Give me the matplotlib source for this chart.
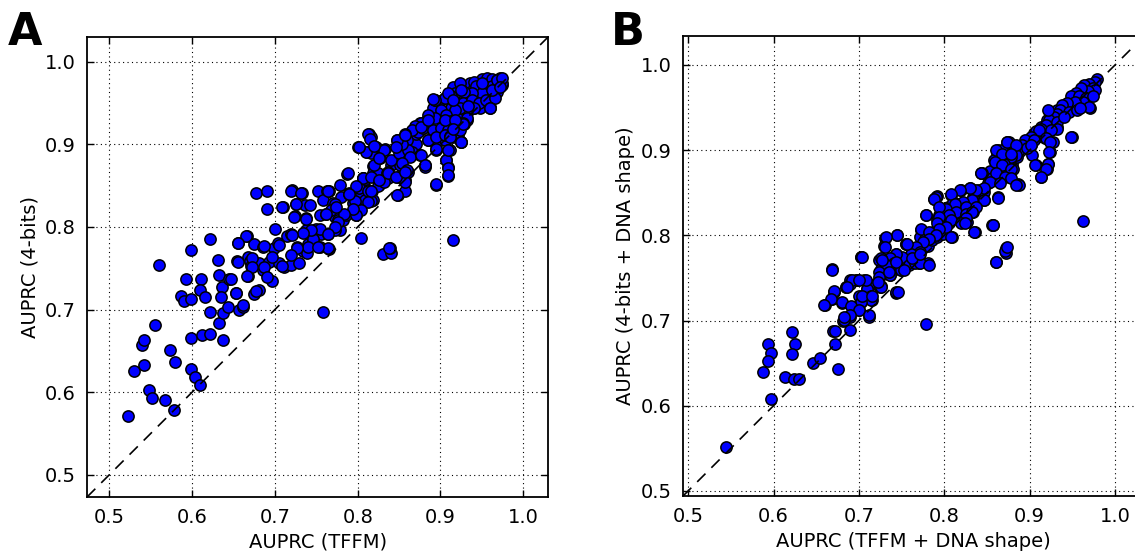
import numpy as np
import matplotlib
matplotlib.use('Agg')
from matplotlib import pyplot as plt

# panel A: AUPRC (TFFM) vs AUPRC (4-bits)
pts_a = [
    (0.523, 0.571), (0.530, 0.626), (0.542, 0.633), (0.539, 0.657), (0.542, 0.663), (0.555, 0.681),
    (0.560, 0.754), (0.548, 0.602), (0.552, 0.593), (0.567, 0.590), (0.578, 0.578), (0.573, 0.651),
    (0.579, 0.636), (0.586, 0.716), (0.590, 0.710), (0.592, 0.737), (0.598, 0.772), (0.599, 0.713),
    (0.599, 0.628), (0.604, 0.618), (0.609, 0.609), (0.599, 0.666), (0.612, 0.669), (0.622, 0.670),
    (0.637, 0.663), (0.611, 0.737), (0.610, 0.724), (0.615, 0.715), (0.621, 0.786), (0.621, 0.697),
    (0.631, 0.760), (0.632, 0.742), (0.632, 0.684), (0.636, 0.727), (0.635, 0.715), (0.645, 0.737),
    (0.637, 0.696), (0.643, 0.703), (0.653, 0.720), (0.657, 0.700), (0.661, 0.703), (0.655, 0.781),
    (0.654, 0.759), (0.666, 0.789), (0.667, 0.764), (0.670, 0.759), (0.667, 0.741), (0.671, 0.753),
    (0.675, 0.779), (0.677, 0.841), (0.691, 0.844), (0.690, 0.822), (0.675, 0.719), (0.681, 0.724),
    (0.681, 0.756), (0.686, 0.776), (0.686, 0.748), (0.696, 0.735), (0.700, 0.798), (0.693, 0.757),
    (0.699, 0.774), (0.704, 0.781), (0.705, 0.756), (0.711, 0.752), (0.719, 0.754), (0.729, 0.756),
    (0.715, 0.789), (0.720, 0.791), (0.710, 0.824), (0.721, 0.845), (0.733, 0.841), (0.726, 0.828),
    (0.724, 0.813), (0.736, 0.827), (0.738, 0.811), (0.738, 0.796), (0.727, 0.776), (0.734, 0.771),
    (0.740, 0.779), (0.746, 0.784), (0.739, 0.768), (0.752, 0.843), (0.763, 0.843), (0.758, 0.833),
    (0.754, 0.814), (0.762, 0.816), (0.749, 0.798), (0.756, 0.791), (0.764, 0.791), (0.754, 0.776),
    (0.765, 0.773), (0.758, 0.697), (0.770, 0.829), (0.778, 0.851), (0.787, 0.864), (0.780, 0.836),
    (0.772, 0.812), (0.774, 0.800), (0.778, 0.796), (0.782, 0.808), (0.790, 0.841), (0.794, 0.829),
    (0.798, 0.814), (0.804, 0.787), (0.800, 0.897), (0.814, 0.913), (0.816, 0.909), (0.811, 0.891),
    (0.822, 0.897), (0.833, 0.894), (0.827, 0.884), (0.818, 0.874), (0.818, 0.865), (0.806, 0.859),
    (0.808, 0.849), (0.804, 0.841), (0.812, 0.845), (0.817, 0.843), (0.809, 0.833), (0.818, 0.833),
    (0.826, 0.851), (0.824, 0.865), (0.835, 0.865), (0.836, 0.859), (0.840, 0.875), (0.851, 0.875),
    (0.849, 0.839), (0.857, 0.843), (0.857, 0.857), (0.861, 0.867), (0.849, 0.861), (0.831, 0.767),
    (0.840, 0.769), (0.839, 0.774), (0.847, 0.905), (0.849, 0.899), (0.851, 0.893), (0.859, 0.909),
    (0.853, 0.889), (0.863, 0.893), (0.871, 0.901), (0.875, 0.917), (0.879, 0.920), (0.885, 0.930),
    (0.875, 0.926), (0.881, 0.875), (0.895, 0.851), (0.894, 0.893), (0.895, 0.899), (0.885, 0.905),
    (0.893, 0.913), (0.905, 0.905), (0.909, 0.893), (0.907, 0.881), (0.909, 0.872), (0.909, 0.862),
    (0.915, 0.784), (0.925, 0.903), (0.899, 0.917), (0.903, 0.929), (0.912, 0.917), (0.915, 0.909),
    (0.921, 0.911), (0.915, 0.927), (0.923, 0.934), (0.932, 0.930), (0.929, 0.925), (0.891, 0.944),
    (0.893, 0.954), (0.899, 0.952), (0.905, 0.956), (0.912, 0.962), (0.917, 0.952), (0.913, 0.944),
    (0.921, 0.946), (0.923, 0.960), (0.928, 0.968), (0.936, 0.974), (0.940, 0.968), (0.946, 0.976),
    (0.950, 0.979), (0.956, 0.980), (0.962, 0.979), (0.968, 0.978), (0.972, 0.980), (0.974, 0.972),
    (0.966, 0.970), (0.956, 0.970), (0.952, 0.962), (0.960, 0.966), (0.968, 0.964), (0.964, 0.956),
    (0.956, 0.954), (0.960, 0.945), (0.948, 0.944), (0.937, 0.954), (0.940, 0.944), (0.932, 0.938),
    (0.942, 0.962), (0.932, 0.958), (0.919, 0.966), (0.915, 0.970), (0.923, 0.974), (0.970, 0.970),
    (0.709, 0.824), (0.720, 0.844), (0.732, 0.841), (0.725, 0.828), (0.723, 0.812), (0.742, 0.826),
    (0.737, 0.810), (0.765, 0.843), (0.772, 0.828), (0.790, 0.840), (0.797, 0.832), (0.802, 0.847),
    (0.806, 0.859), (0.812, 0.843), (0.816, 0.832), (0.824, 0.849), (0.832, 0.855), (0.837, 0.867),
    (0.820, 0.875), (0.816, 0.889), (0.810, 0.891), (0.801, 0.897), (0.812, 0.913), (0.832, 0.893),
    (0.840, 0.881), (0.850, 0.889), (0.865, 0.891), (0.875, 0.887), (0.881, 0.873), (0.871, 0.913),
    (0.881, 0.921), (0.764, 0.775), (0.772, 0.796), (0.786, 0.814), (0.776, 0.808), (0.768, 0.820),
    (0.754, 0.798), (0.746, 0.786), (0.740, 0.776), (0.744, 0.796), (0.752, 0.776), (0.734, 0.793),
    (0.721, 0.790), (0.727, 0.774), (0.719, 0.766), (0.709, 0.753), (0.705, 0.778), (0.697, 0.764),
    (0.687, 0.777), (0.665, 0.789), (0.655, 0.780), (0.655, 0.758), (0.672, 0.762), (0.672, 0.752),
    (0.687, 0.752), (0.691, 0.739), (0.666, 0.741), (0.653, 0.720), (0.677, 0.723), (0.661, 0.705),
    (0.647, 0.737),
    (0.941, 0.976), (0.943, 0.971), (0.952, 0.970), (0.962, 0.971), (0.974, 0.974), (0.960, 0.964),
    (0.950, 0.962), (0.938, 0.962), (0.929, 0.964), (0.917, 0.962), (0.913, 0.958), (0.905, 0.956),
    (0.893, 0.954), (0.917, 0.951), (0.927, 0.950), (0.938, 0.954), (0.946, 0.950), (0.955, 0.954),
    (0.966, 0.956), (0.960, 0.944), (0.940, 0.944), (0.932, 0.942), (0.923, 0.944), (0.917, 0.942),
    (0.901, 0.942), (0.907, 0.936), (0.932, 0.932), (0.927, 0.926), (0.913, 0.928), (0.903, 0.928),
    (0.893, 0.932), (0.885, 0.936), (0.883, 0.928), (0.877, 0.926), (0.869, 0.922), (0.873, 0.915),
    (0.865, 0.917), (0.879, 0.920), (0.891, 0.917), (0.901, 0.920), (0.909, 0.917), (0.917, 0.921),
    (0.923, 0.917), (0.885, 0.905), (0.895, 0.909), (0.905, 0.911), (0.911, 0.910), (0.925, 0.903),
    (0.911, 0.893), (0.895, 0.894), (0.907, 0.881), (0.909, 0.871), (0.909, 0.863), (0.857, 0.913),
    (0.859, 0.905), (0.861, 0.893), (0.863, 0.885), (0.853, 0.901), (0.877, 0.887), (0.881, 0.875),
    (0.895, 0.852), (0.853, 0.877), (0.859, 0.869), (0.857, 0.855),
    (0.815, 0.907), (0.801, 0.897), (0.820, 0.898), (0.826, 0.883), (0.848, 0.905), (0.846, 0.897),
    (0.857, 0.911), (0.848, 0.839), (0.838, 0.774), (0.788, 0.865), (0.764, 0.843), (0.806, 0.859),
    (0.816, 0.861), (0.826, 0.857), (0.836, 0.865), (0.846, 0.861), (0.857, 0.867), (0.798, 0.849),
    (0.816, 0.843), (0.812, 0.830), (0.804, 0.820), (0.798, 0.814), (0.794, 0.822), (0.784, 0.816),
    (0.776, 0.806), (0.772, 0.800), (0.764, 0.792), (0.762, 0.816), (0.774, 0.824), (0.790, 0.840),
    (0.877, 0.921), (0.885, 0.930), (0.891, 0.955), (0.909, 0.962), (0.915, 0.954), (0.925, 0.966),
    (0.933, 0.946), (0.927, 0.925), (0.925, 0.903), (0.909, 0.893), (0.905, 0.930), (0.917, 0.930),
    (0.911, 0.909), (0.915, 0.919), (0.960, 0.944), (0.950, 0.974), (0.968, 0.978), (0.974, 0.980),
    (0.962, 0.966), (0.972, 0.970),
]

# panel B: AUPRC (TFFM + DNA shape) vs AUPRC (4-bits + DNA shape)
pts_b = [
    (0.544, 0.552), (0.597, 0.608), (0.593, 0.673), (0.597, 0.662), (0.593, 0.653), (0.588, 0.640),
    (0.622, 0.686), (0.625, 0.672), (0.622, 0.661), (0.613, 0.634), (0.624, 0.631), (0.630, 0.631),
    (0.646, 0.650), (0.654, 0.656), (0.672, 0.673), (0.676, 0.643), (0.670, 0.688), (0.672, 0.688),
    (0.681, 0.700), (0.689, 0.704), (0.690, 0.689), (0.669, 0.760), (0.660, 0.718), (0.668, 0.725),
    (0.671, 0.734), (0.680, 0.721), (0.685, 0.739), (0.690, 0.747), (0.698, 0.748), (0.693, 0.716),
    (0.706, 0.747), (0.702, 0.727), (0.702, 0.722), (0.700, 0.712), (0.712, 0.704), (0.710, 0.737),
    (0.714, 0.729), (0.715, 0.724), (0.720, 0.743), (0.725, 0.739), (0.702, 0.774), (0.724, 0.771),
    (0.726, 0.761), (0.731, 0.797), (0.729, 0.787), (0.732, 0.771), (0.734, 0.759), (0.736, 0.753),
    (0.728, 0.755), (0.743, 0.778), (0.745, 0.800), (0.755, 0.790), (0.745, 0.767), (0.749, 0.759),
    (0.740, 0.759), (0.744, 0.732), (0.751, 0.769), (0.755, 0.767), (0.761, 0.771), (0.763, 0.778),
    (0.770, 0.767), (0.767, 0.782), (0.773, 0.806), (0.779, 0.824), (0.781, 0.788), (0.781, 0.767),
    (0.779, 0.696), (0.771, 0.798), (0.777, 0.796), (0.783, 0.802), (0.786, 0.794), (0.792, 0.798),
    (0.798, 0.802), (0.790, 0.806), (0.793, 0.814), (0.794, 0.824), (0.792, 0.818), (0.788, 0.843),
    (0.792, 0.846), (0.802, 0.827), (0.804, 0.833), (0.808, 0.847), (0.810, 0.839), (0.809, 0.798),
    (0.806, 0.814), (0.814, 0.827), (0.816, 0.837), (0.819, 0.853), (0.824, 0.837), (0.825, 0.822),
    (0.827, 0.816), (0.830, 0.855), (0.834, 0.845), (0.834, 0.827), (0.836, 0.804), (0.841, 0.853),
    (0.846, 0.841), (0.847, 0.851), (0.843, 0.873), (0.851, 0.861), (0.855, 0.869), (0.857, 0.812),
    (0.861, 0.769), (0.872, 0.779), (0.872, 0.785), (0.863, 0.845), (0.859, 0.877), (0.861, 0.884),
    (0.863, 0.900), (0.867, 0.896), (0.869, 0.880), (0.865, 0.869), (0.873, 0.910), (0.875, 0.892),
    (0.879, 0.884), (0.877, 0.873), (0.881, 0.900), (0.886, 0.860), (0.885, 0.892), (0.888, 0.902),
    (0.892, 0.904), (0.901, 0.906), (0.903, 0.894), (0.907, 0.882), (0.913, 0.869), (0.920, 0.878),
    (0.921, 0.884), (0.924, 0.898), (0.927, 0.910), (0.918, 0.914), (0.909, 0.916), (0.911, 0.924),
    (0.905, 0.920), (0.913, 0.927), (0.920, 0.935), (0.932, 0.927), (0.926, 0.941), (0.932, 0.947),
    (0.938, 0.951), (0.963, 0.817), (0.949, 0.916), (0.971, 0.950),
    (0.979, 0.984), (0.976, 0.980), (0.970, 0.978), (0.964, 0.976), (0.974, 0.973), (0.977, 0.971),
    (0.968, 0.969), (0.960, 0.973), (0.954, 0.967), (0.948, 0.963), (0.958, 0.963), (0.966, 0.961),
    (0.974, 0.963), (0.962, 0.957), (0.953, 0.957), (0.944, 0.955), (0.938, 0.953), (0.936, 0.947),
    (0.946, 0.945), (0.956, 0.947), (0.970, 0.951), (0.959, 0.949), (0.932, 0.943), (0.929, 0.939),
    (0.923, 0.935), (0.919, 0.929), (0.932, 0.933), (0.940, 0.939), (0.913, 0.925), (0.907, 0.922),
    (0.911, 0.924), (0.932, 0.925), (0.925, 0.924), (0.901, 0.916), (0.895, 0.912), (0.905, 0.912),
    (0.919, 0.914), (0.891, 0.906), (0.887, 0.900), (0.897, 0.902), (0.901, 0.906), (0.948, 0.916),
    (0.924, 0.910), (0.923, 0.898), (0.921, 0.884), (0.919, 0.878), (0.913, 0.869), (0.906, 0.882),
    (0.882, 0.900), (0.876, 0.910), (0.884, 0.894), (0.868, 0.900), (0.878, 0.892), (0.870, 0.884),
    (0.880, 0.878), (0.862, 0.896), (0.858, 0.888), (0.866, 0.875), (0.854, 0.875), (0.856, 0.867),
    (0.844, 0.873), (0.887, 0.859), (0.921, 0.947),
    (0.873, 0.910), (0.884, 0.906), (0.861, 0.900), (0.867, 0.896), (0.878, 0.896), (0.859, 0.886),
    (0.867, 0.882), (0.878, 0.878), (0.843, 0.873), (0.861, 0.873), (0.871, 0.869), (0.878, 0.867),
    (0.853, 0.863), (0.865, 0.861), (0.884, 0.859), (0.847, 0.855), (0.837, 0.853), (0.830, 0.855),
    (0.818, 0.853), (0.808, 0.849), (0.790, 0.845), (0.788, 0.843), (0.863, 0.844), (0.847, 0.841),
    (0.833, 0.841), (0.822, 0.839), (0.812, 0.837), (0.802, 0.831), (0.794, 0.833), (0.826, 0.833),
    (0.837, 0.833), (0.814, 0.827), (0.806, 0.824), (0.826, 0.825), (0.833, 0.827), (0.779, 0.824),
    (0.794, 0.822), (0.808, 0.818), (0.826, 0.820), (0.792, 0.814), (0.802, 0.810), (0.820, 0.814),
    (0.824, 0.814), (0.794, 0.808), (0.773, 0.807), (0.782, 0.804), (0.790, 0.800), (0.808, 0.798),
    (0.856, 0.812), (0.835, 0.804), (0.782, 0.796), (0.775, 0.792), (0.767, 0.786), (0.771, 0.780),
    (0.755, 0.790), (0.745, 0.800), (0.732, 0.798), (0.730, 0.786), (0.761, 0.778), (0.751, 0.775),
    (0.743, 0.778), (0.736, 0.773), (0.726, 0.773), (0.741, 0.767), (0.732, 0.765), (0.749, 0.759),
    (0.759, 0.765), (0.766, 0.767), (0.772, 0.767), (0.736, 0.753), (0.724, 0.757), (0.726, 0.741),
    (0.712, 0.743), (0.724, 0.751), (0.710, 0.737), (0.702, 0.775), (0.708, 0.747), (0.697, 0.747),
    (0.689, 0.743), (0.685, 0.739), (0.700, 0.729), (0.714, 0.729), (0.714, 0.724), (0.702, 0.722),
    (0.743, 0.733), (0.669, 0.759), (0.671, 0.735), (0.667, 0.725), (0.659, 0.718), (0.680, 0.722),
    (0.691, 0.717), (0.700, 0.712), (0.712, 0.706), (0.689, 0.706), (0.861, 0.769), (0.871, 0.782),
    (0.873, 0.786), (0.857, 0.812),
    (0.683, 0.701), (0.683, 0.704), (0.704, 0.729), (0.692, 0.747), (0.700, 0.747), (0.686, 0.739),
    (0.704, 0.775), (0.715, 0.729), (0.726, 0.739), (0.722, 0.745), (0.746, 0.733), (0.727, 0.771),
    (0.735, 0.757), (0.744, 0.769), (0.753, 0.759), (0.756, 0.790), (0.762, 0.773), (0.772, 0.778),
    (0.782, 0.765),
]

xa = [p[0] for p in pts_a]
ya = [p[1] for p in pts_a]
xb = [p[0] for p in pts_b]
yb = [p[1] for p in pts_b]

ticks = [0.5, 0.6, 0.7, 0.8, 0.9, 1.0]
fs = 14

fig = plt.figure(figsize=(11.35, 5.54), dpi=100)

def panel(rect, x, y, xlabel, ylabel):
    ax = fig.add_axes(rect)
    lo = min(min(x), min(y)) - 0.05
    hi = max(max(x), max(y)) + 0.05
    ax.grid(True, color='k', linestyle=(0, (1, 3)), linewidth=0.8)
    ax.set_axisbelow(True)
    ax.scatter(x, y, s=66, c='#0000ff', edgecolors='k', linewidths=1.1, zorder=3)
    ax.plot([lo, hi], [lo, hi], color='k', linestyle=(0, (7, 5)), linewidth=1.2, zorder=4)
    ax.set_xlim(lo, hi)
    ax.set_ylim(lo, hi)
    ax.set_xticks(ticks)
    ax.set_yticks(ticks)
    ax.tick_params(direction='in', top=True, right=True, length=5, width=1, labelsize=fs, pad=8)
    for s in ax.spines.values():
        s.set_linewidth(1.3)
    ax.set_xlabel(xlabel, fontsize=fs)
    ax.set_ylabel(ylabel, fontsize=fs)
    return ax

panel([0.0767, 0.1029, 0.4062, 0.8303], xa, ya, 'AUPRC (TFFM)', 'AUPRC (4-bits)')
panel([0.6018, 0.1047, 0.4062, 0.8303], xb, yb, 'AUPRC (TFFM + DNA shape)', 'AUPRC (4-bits + DNA shape)')

fig.text(8 / 1135, 1 - 45 / 554, 'A', fontsize=32, fontweight='bold', va='baseline')
fig.text(611 / 1135, 1 - 45 / 554, 'B', fontsize=32, fontweight='bold', va='baseline')

fig.savefig('out.png', dpi=100)
